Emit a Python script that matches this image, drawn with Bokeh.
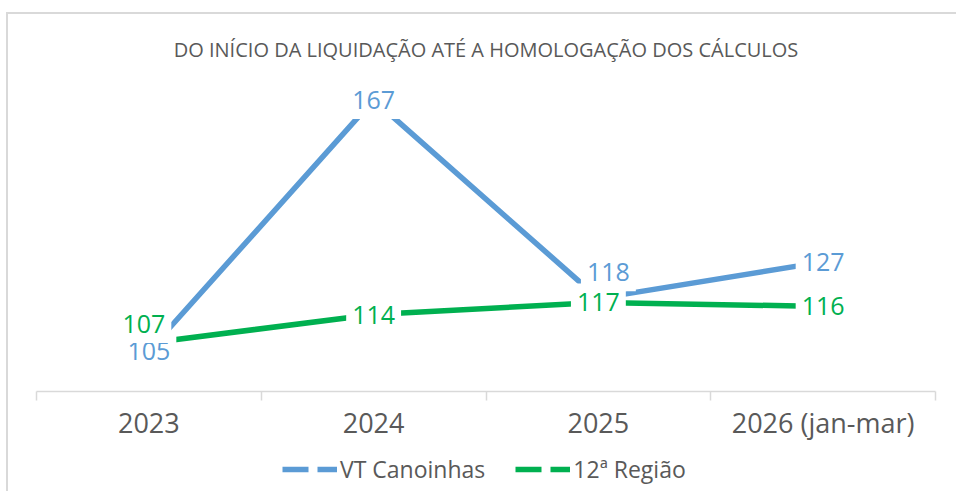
from bokeh.plotting import figure
from bokeh.layouts import column
from bokeh.models import (ColumnDataSource, FixedTicker, Range1d, Legend, LegendItem, Title)
from bokeh.core.properties import value
from bokeh.embed import file_html
from bokeh.resources import INLINE

# ---- data ----
categories = ["2023", "2024", "2025", "2026 (jan-mar)"]
vt_canoinhas = [105, 167, 118, 127]
regiao_12 = [107, 114, 117, 116]
series_names = ["VT Canoinhas", "12ª Região"]
title_text = "DO INÍCIO DA LIQUIDAÇÃO ATÉ A HOMOLOGAÇÃO DOS CÁLCULOS"

# label nudges (pixels) to avoid overlap, as in the original
vt_dx = [0, 0, 10, 0]
vt_dy = [0, 0, -26, 0]
rg_dx = [-5, 0, 0, 0]
rg_dy = [-19, 0, 0, 0]

BLUE = "#5b9bd5"
GREEN = "#00b050"
GRAY = "#595959"
LIGHT = "#d9d9d9"
FONT = "Open Sans"

xs = [i + 0.5 for i in range(len(categories))]

p = figure(width=948, height=436, output_backend="svg", toolbar_location=None,
           x_range=Range1d(0, len(categories)), y_range=Range1d(95, 175),
           min_border_left=28, min_border_right=21, min_border_top=53, min_border_bottom=59)
p.outline_line_color = None
p.xgrid.visible = False
p.ygrid.visible = False
p.yaxis.visible = False

p.title = Title(text=title_text, align="center", text_font=FONT, text_font_size="20px",
                text_font_style="normal", text_color=GRAY)

ax = p.xaxis[0]
ax.ticker = FixedTicker(ticks=xs, minor_ticks=list(range(len(categories) + 1)))
ax.major_label_overrides = {x: c for x, c in zip(xs, categories)}
ax.axis_line_color = LIGHT
ax.axis_line_width = 1.5
ax.major_tick_line_color = None
ax.major_tick_out = 0
ax.major_tick_in = 0
ax.minor_tick_line_color = LIGHT
ax.minor_tick_line_width = 1.5
ax.minor_tick_out = 9
ax.minor_tick_in = 0
ax.major_label_text_font = FONT
ax.major_label_text_font_size = "27px"
ax.major_label_text_color = GRAY
ax.major_label_standoff = 3

src_vt = ColumnDataSource(dict(x=xs, y=vt_canoinhas, t=[str(v) for v in vt_canoinhas], dx=vt_dx, dy=vt_dy))
src_rg = ColumnDataSource(dict(x=xs, y=regiao_12, t=[str(v) for v in regiao_12], dx=rg_dx, dy=rg_dy))

p.line("x", "y", source=src_vt, line_color=BLUE, line_width=5.5)
p.line("x", "y", source=src_rg, line_color=GREEN, line_width=5.5)

for src, col in ((src_vt, BLUE), (src_rg, GREEN)):
    p.text("x", "y", text="t", source=src, x_offset="dx", y_offset="dy",
           text_font=value(FONT), text_font_size="25px", text_color=col,
           text_align="center", text_baseline="middle",
           background_fill_color="white",
           padding=dict(left=6, right=6, top=10, bottom=10))

# legend panel (dashed samples, as in the original legend)
lg = figure(width=948, height=41, output_backend="svg", toolbar_location=None,
            x_range=Range1d(0, 1), y_range=Range1d(0, 1),
            min_border_left=0, min_border_right=0, min_border_top=0, min_border_bottom=0)
lg.outline_line_color = None
lg.axis.visible = False
lg.grid.visible = False
nan = float("nan")
leg_vt = lg.line(x=[nan], y=[nan], line_color=BLUE, line_width=5.5, line_dash="26 9")
leg_rg = lg.line(x=[nan], y=[nan], line_color=GREEN, line_width=5.5, line_dash="26 9")
legend = Legend(items=[LegendItem(label=series_names[0], renderers=[leg_vt]),
                       LegendItem(label=series_names[1], renderers=[leg_rg])],
                orientation="horizontal", location=(246, 6),
                label_text_font=FONT, label_text_font_size="23px", label_text_color=GRAY,
                glyph_width=55, glyph_height=20, label_standoff=3, spacing=30,
                border_line_color=None, background_fill_alpha=0, padding=0, margin=0)
lg.add_layout(legend)

layout = column(p, lg, spacing=0)
layout.margin = (12, 0, 0, 6)
layout.styles = {"border-top": "2px solid #d9d9d9", "border-left": "2px solid #d9d9d9"}

open("out.html", "w").write(file_html(layout, INLINE))
